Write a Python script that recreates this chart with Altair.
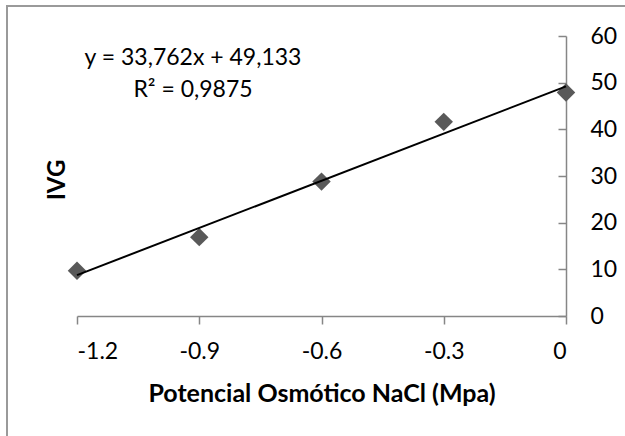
import altair as alt
import pandas as pd

# data
potencial = [-1.2, -0.9, -0.6, -0.3, 0.0]
ivg = [9.7, 16.9, 28.8, 41.6, 47.9]
x_ticks = [-1.2, -0.9, -0.6, -0.3, 0.0]
y_ticks = [0, 10, 20, 30, 40, 50, 60]
equation_lines = ["y = 33,762x + 49,133", "R² = 0,9875"]
x_title = "Potencial Osmótico NaCl (Mpa)"
y_title = "IVG"

df = pd.DataFrame({"x": potencial, "y": ivg})

FONT = "Lato"
FS = 23
W, H = 489, 280
AXIS_COLOR = "#868686"

xscale = alt.Scale(domain=[-1.2, 0], nice=False, zero=False)
yscale = alt.Scale(domain=[0, 60], nice=False, zero=True)

x_axis = alt.Axis(
    values=x_ticks,
    labelExpr="datum.value == 0 ? '0' : '-' + format(-datum.value, '.1f')",
    title=x_title,
    titleFont=FONT, titleFontSize=25, titleFontWeight="bold", titleColor="black",
    titlePadding=18,
    labelFont=FONT, labelFontSize=FS, labelColor="black", labelPadding=16,
    domainColor=AXIS_COLOR, domainWidth=1.5,
    tickColor=AXIS_COLOR, tickWidth=1.5, tickSize=8,
    grid=False,
)

y_axis_right = alt.Axis(
    orient="right", values=y_ticks, title=None,
    labelFont=FONT, labelFontSize=FS, labelColor="black", labelPadding=24,
    domainColor=AXIS_COLOR, domainWidth=1.5, ticks=False, grid=False,
)

y_axis_ticks = alt.Axis(
    orient="left", offset=-W, values=y_ticks, title=None, labels=False,
    domain=False, tickColor=AXIS_COLOR, tickWidth=1.5, tickSize=8, grid=False,
)

points = alt.Chart(df).mark_point(
    shape="diamond", filled=True, size=340, color="#595959", opacity=1
).encode(
    x=alt.X("x:Q", scale=xscale, axis=x_axis),
    y=alt.Y("y:Q", scale=yscale, axis=y_axis_right),
)

trend = alt.Chart(df).transform_regression(
    "x", "y", extent=[-1.2, 0]
).mark_line(color="black", strokeWidth=2).encode(
    x=alt.X("x:Q", scale=xscale, axis=x_axis),
    y=alt.Y("y:Q", scale=yscale, axis=y_axis_ticks),
)

eq_df = pd.DataFrame({"t": equation_lines, "row": [0, 1]})
equation = alt.Chart(eq_df).mark_text(
    font=FONT, fontSize=FS, color="black", align="center", baseline="middle"
).encode(
    text="t:N", x=alt.value(116), y=alt.value(22),
).transform_filter("datum.row == 0")

equation2 = alt.Chart(eq_df).mark_text(
    font=FONT, fontSize=FS, color="black", align="center", baseline="middle"
).encode(
    text="t:N", x=alt.value(116), y=alt.value(54),
).transform_filter("datum.row == 1")

ytitle_df = pd.DataFrame({"t": [y_title]})
ytitle = alt.Chart(ytitle_df).mark_text(
    font=FONT, fontSize=FS + 1, fontWeight="bold", color="black", angle=270,
    align="center", baseline="middle"
).encode(text="t:N", x=alt.value(-19), y=alt.value(144))

border_left = alt.Chart(ytitle_df).mark_rule(color="#9a9a9a", strokeWidth=2).encode(
    x=alt.value(-70), y=alt.value(-30), y2=alt.value(400)
)
border_top = alt.Chart(ytitle_df).mark_rule(color="#9a9a9a", strokeWidth=2).encode(
    x=alt.value(-71), x2=alt.value(548), y=alt.value(-30)
)

chart = alt.layer(
    border_left, border_top, points, trend, equation, equation2, ytitle
).resolve_axis(y="independent", x="shared").properties(
    width=W, height=H,
    autosize=alt.AutoSizeParams(type="none"),
    padding={"left": 77, "top": 36, "right": 59, "bottom": 120},
    background="white",
).configure_view(stroke=None)

chart.save("out.html", embed_options={"renderer": "svg", "actions": False})
